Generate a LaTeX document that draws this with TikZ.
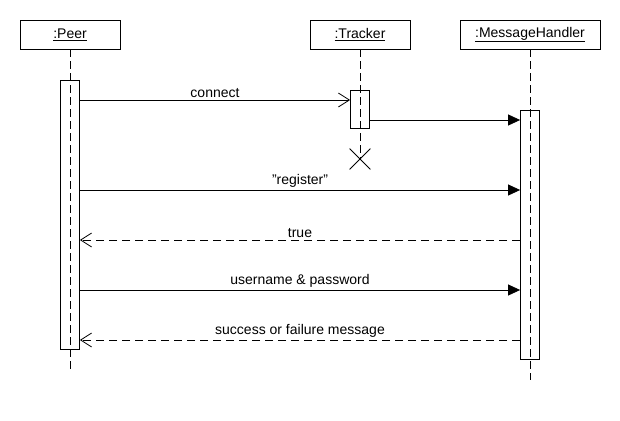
\documentclass[tikz,border=0pt]{standalone}
\usepackage{fontspec}
\setmainfont{Liberation Sans}
\usetikzlibrary{arrows.meta,shapes.misc}

\begin{document}
\begin{tikzpicture}[x=1pt, y=-1pt, line width=0.8pt,
    font=\fontsize{14}{16}\selectfont,
    head/.style={draw, minimum width=100pt, minimum height=29pt, inner sep=0pt},
    act/.style={draw, minimum width=19pt, inner sep=0pt},
    lifeline/.style={dash pattern=on 8pt off 4pt},
    call/.style={-{Triangle[length=12pt,width=11pt]}},
    open/.style={-{Straight Barb[length=11pt,width=14pt]}},
    reply/.style={open, dash pattern=on 8pt off 5pt},
    lbl/.style={above, inner sep=2pt}]
    \useasboundingbox (0,0) rectangle (620,420);
    % heads
    \node[head] (peer) at (70,34.5) {\underline{:Peer}};
    \node[head] (tracker) at (360,34.5) {\underline{:Tracker}};
    \node[head, minimum width=140pt] (mh) at (530,34.5) {\underline{:MessageHandler}};
    % lifelines
    \coordinate (peerend) at (70,370);
    \coordinate (mhend) at (530,380);
    \node[cross out, draw, minimum size=20pt, inner sep=0pt] (kill) at (360,159) {};
    \draw[lifeline] (peer) -- (peerend);
    \draw[lifeline] (tracker) -- (kill.center);
    \draw[lifeline] (mh) -- (mhend);
    % activations
    \node[act, minimum height=269pt] (peeract) at (70,214.5) {};
    \node[act, minimum height=38pt] (tracact) at (360,109) {};
    \node[act, minimum height=249pt] (mhact) at (530,234.5) {};
    % messages
    \coordinate (m1) at (0,100);
    \coordinate (m2) at (0,120);
    \coordinate (m3) at (0,190);
    \coordinate (m4) at (0,240);
    \coordinate (m5) at (0,290);
    \coordinate (m6) at (0,340);
    \draw[open] (peeract.east |- m1) -- (tracact.west |- m1) node[midway, lbl] {connect};
    \draw[call] (tracact.east |- m2) -- (mhact.west |- m2);
    \draw[call] (peeract.east |- m3) -- (mhact.west |- m3) node[midway, lbl] {\symbol{34}register\symbol{34}};
    \draw[reply] (mhact.west |- m4) -- (peeract.east |- m4) node[midway, lbl] {true};
    \draw[call] (peeract.east |- m5) -- (mhact.west |- m5) node[midway, lbl] {username \& password};
    \draw[reply] (mhact.west |- m6) -- (peeract.east |- m6) node[midway, lbl] {success or failure message};
\end{tikzpicture}
\end{document}
